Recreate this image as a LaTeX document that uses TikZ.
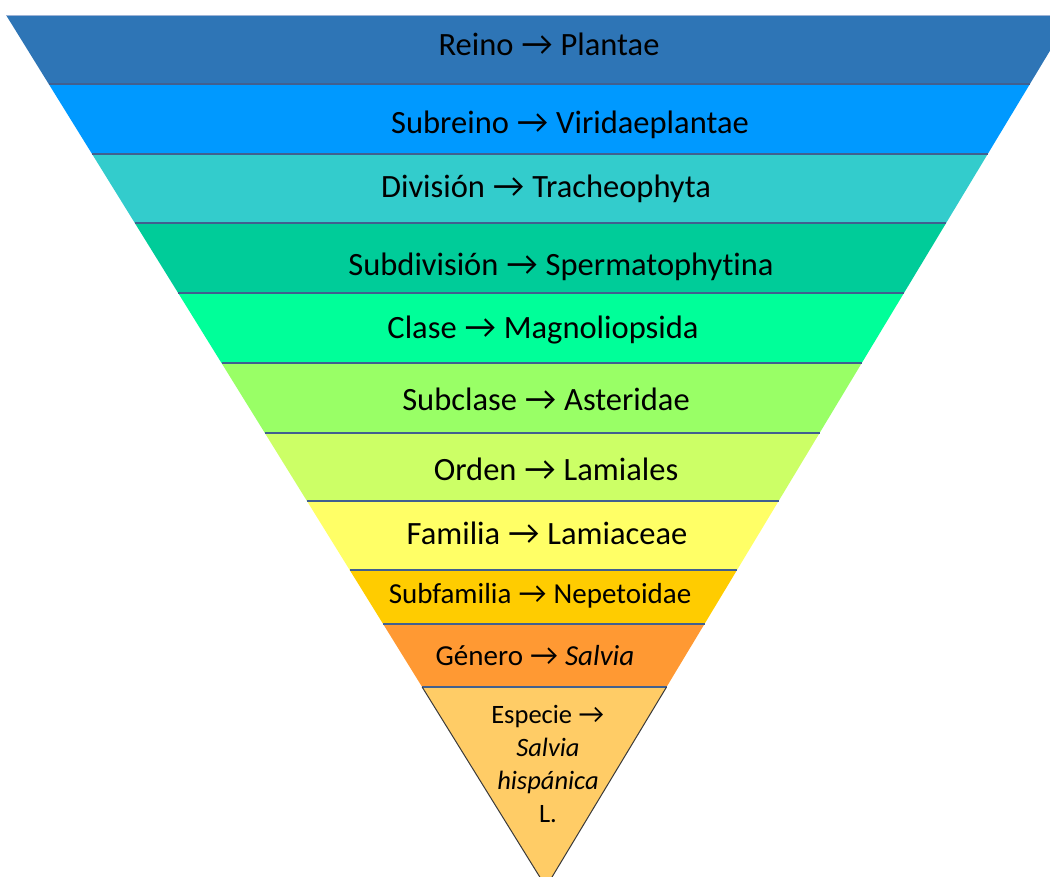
\documentclass[tikz,border=0pt]{standalone}
\usepackage{fontspec}
\setmainfont[Ligatures=NoCommon]{Carlito}
\newfontfamily\arrowfnt{Lato}
\newcommand{\tarrow}{{\arrowfnt →}}
\definecolor{cReino}{HTML}{2E75B6}
\definecolor{cSubreino}{HTML}{0099FF}
\definecolor{cDivision}{HTML}{33CCCC}
\definecolor{cSubdiv}{HTML}{00CC99}
\definecolor{cClase}{HTML}{00FF99}
\definecolor{cSubclase}{HTML}{99FF66}
\definecolor{cOrden}{HTML}{CCFF66}
\definecolor{cFamilia}{HTML}{FFFF66}
\definecolor{cSubfam}{HTML}{FFCC00}
\definecolor{cGenero}{HTML}{FF9933}
\definecolor{cEspecie}{HTML}{FFCC66}
\definecolor{sepline}{HTML}{41608F}
\definecolor{topline}{HTML}{9DB3D6}
\definecolor{outline}{HTML}{3A3A3A}
\begin{document}
\begin{tikzpicture}[x=1pt,y=-1pt,
  lab/.style={anchor=base,inner sep=0pt,text=black,font=\fontsize{32.5}{38}\selectfont},
  smalllab/.style={anchor=base,inner sep=0pt,text=black,font=\fontsize{29}{34}\selectfont},
  seplinestyle/.style={draw=sepline,line width=1.1pt}]
\useasboundingbox (0,0) rectangle (1050,876);
\clip (0,0) rectangle (1050,876);
\foreach \ya/\yb/\col in {15/84/cReino,84/154/cSubreino,154/223/cDivision,223/293/cSubdiv,293/363/cClase,363/433/cSubclase,433/501/cOrden,501/570/cFamilia,570/624/cSubfam,624/687/cGenero,687/887/cEspecie}{
  \pgfmathsetmacro\la{6+0.619266*(\ya-15)}
  \pgfmathsetmacro\lb{6+0.619266*(\yb-15)}
  \pgfmathsetmacro\ra{1071.5-0.602638*(\ya-15)}
  \pgfmathsetmacro\rb{1071.5-0.602638*(\yb-15)}
  \fill[\col] (\la,\ya) -- (\ra,\ya) -- (\rb,\yb) -- (\lb,\yb) -- cycle;
}
\foreach \yy in {84,154,223,293,363,433,501,570,624,687}{
  \pgfmathsetmacro\la{6+0.619266*(\yy-15)}
  \pgfmathsetmacro\ra{1071.5-0.602638*(\yy-15)}
  \draw[seplinestyle] (\la,\yy) -- (\ra,\yy);
}
\draw[topline,line width=1pt] (6,15) -- (1071.5,15);
\pgfmathsetmacro\el{6+0.619266*(687-15)}
\pgfmathsetmacro\er{1071.5-0.602638*(687-15)}
\draw[outline,line width=1pt,line join=miter] (\el,687) -- (546,887) -- (\er,687);
\node[lab] (reino) at (549,55) {Reino \tarrow{} Plantae};
\node[lab] (subreino) at (570,133) {Subreino \tarrow{} Viridaeplantae};
\node[lab] (division) at (546,197) {División \tarrow{} Tracheophyta};
\node[lab] (subdivision) at (561,275) {Subdivisión \tarrow{} Spermatophytina};
\node[lab] (clase) at (543,338) {Clase \tarrow{} Magnoliopsida};
\node[lab] (subclase) at (546,410) {Subclase \tarrow{} Asteridae};
\node[lab] (orden) at (556,480) {Orden \tarrow{} Lamiales};
\node[lab] (familia) at (547,544) {Familia \tarrow{} Lamiaceae};
\node[smalllab] (subfamilia) at (540,603) {Subfamilia \tarrow{} Nepetoidae};
\node[smalllab] (genero) at (535,665) {Género \tarrow{} \textit{Salvia}};
\node[inner sep=0pt,align=center,text=black,font=\fontsize{26.5}{32.7}\selectfont] (especie) at (548,764) {Especie \tarrow\\\textit{Salvia}\\\textit{hispánica}\\L.};
\end{tikzpicture}
\end{document}
